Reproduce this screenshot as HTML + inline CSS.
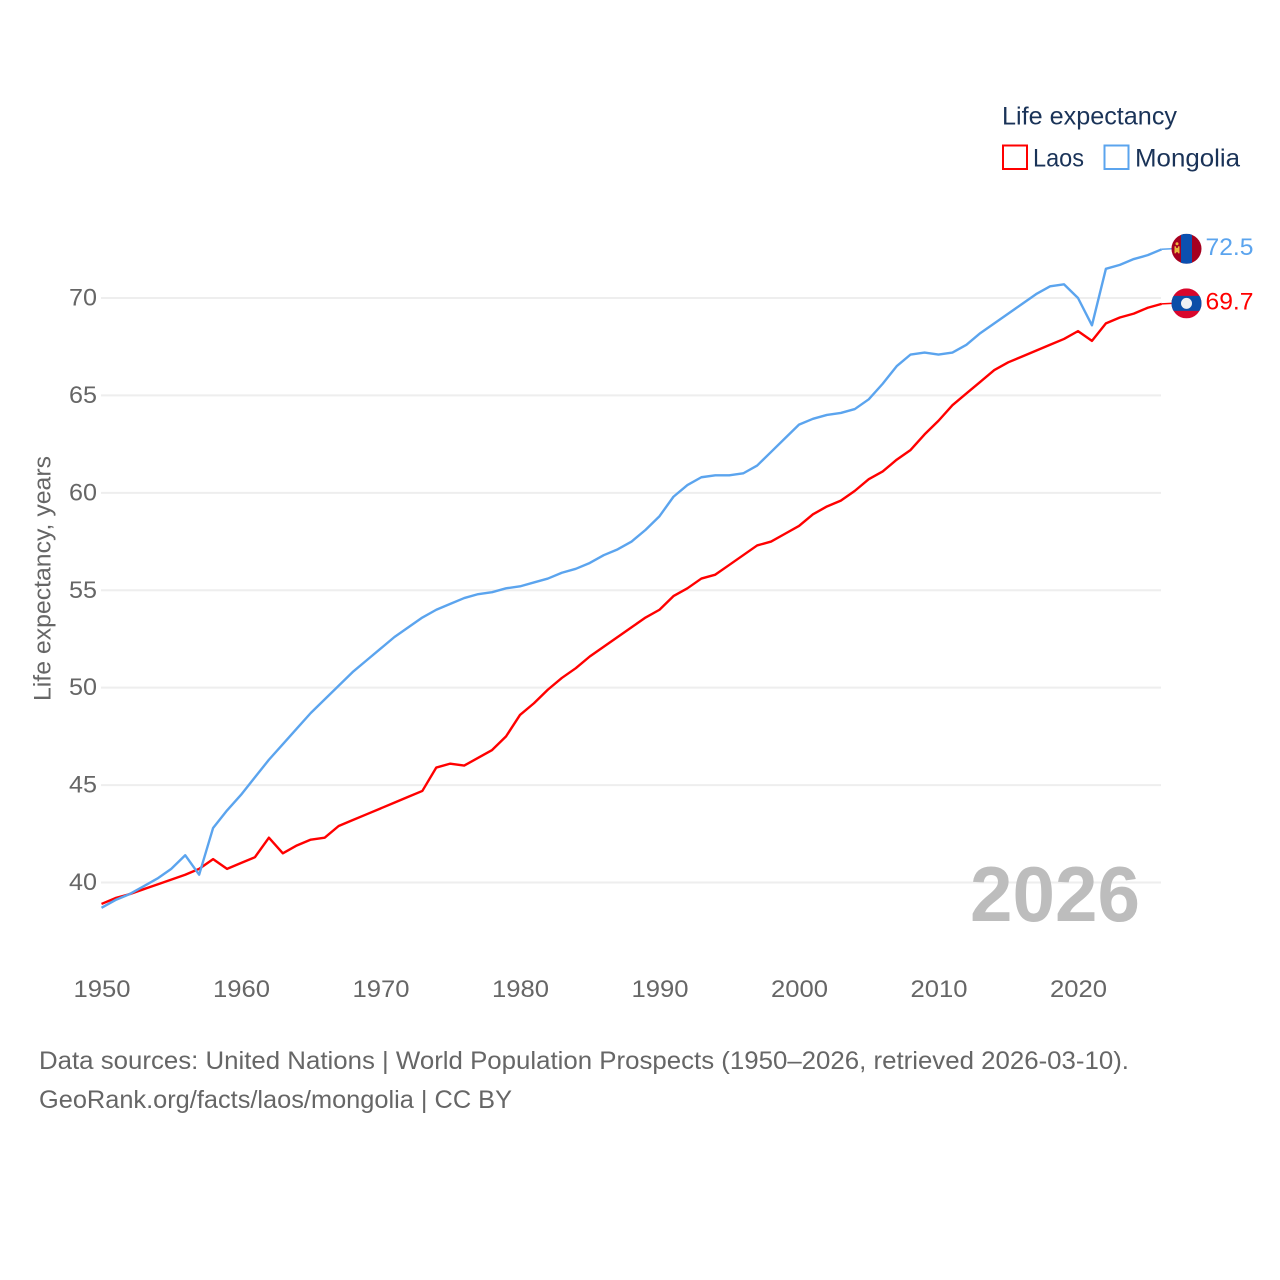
<!DOCTYPE html>
<html lang="en">
<head>
<meta charset="utf-8">
<title>Life expectancy: Laos and Mongolia</title>
<style>
html,body{margin:0;padding:0;background:#fff}
svg{display:block}
text{font-family:"Liberation Sans",sans-serif}
</style>
</head>
<body>
<svg id="chart" xmlns="http://www.w3.org/2000/svg" width="1280" height="1280" viewBox="0 0 1280 1280">
  <rect width="1280" height="1280" fill="#fff"/>
  <defs>
    <clipPath id="flag-clip-laos"><circle id="clip-laos" r="15"/></clipPath>
    <clipPath id="flag-clip-mongolia"><circle id="clip-mongolia" r="15"/></clipPath>
  </defs>
  <g id="grid"></g>
  <text id="watermark" x="970" y="921" font-size="78" font-weight="700" fill="#bdbdbd" textLength="170" lengthAdjust="spacingAndGlyphs">2026</text>
  <g id="y-ticks"></g>
  <g id="x-ticks"></g>
  <text transform="translate(50.500,701) rotate(-90)" font-size="24.5" fill="#666" textLength="245" lengthAdjust="spacingAndGlyphs">Life expectancy, years</text>
  <g id="series"></g>
  <g id="end-labels"></g>

  <g>
    <text x="1002" y="124.500" font-size="25" fill="#1a3358" textLength="175" lengthAdjust="spacingAndGlyphs">Life expectancy</text>
    <rect x="1003" y="145.500" width="24" height="23.500" fill="#fff" stroke="#ff0000" stroke-width="2"/>
    <text x="1033" y="166.500" font-size="25" fill="#1a3358" textLength="51" lengthAdjust="spacingAndGlyphs">Laos</text>
    <rect x="1104.500" y="145.500" width="24" height="23.500" fill="#fff" stroke="#5ba4ee" stroke-width="2"/>
    <text x="1135" y="166.500" font-size="25" fill="#1a3358" textLength="105" lengthAdjust="spacingAndGlyphs">Mongolia</text>
  </g>

  <g>
    <text x="39" y="1069" font-size="25" fill="#666" textLength="1090" lengthAdjust="spacingAndGlyphs">Data sources: United Nations | World Population Prospects (1950–2026, retrieved 2026-03-10).</text>
    <text x="39" y="1108" font-size="25" fill="#666" textLength="473" lengthAdjust="spacingAndGlyphs">GeoRank.org/facts/laos/mongolia | CC BY</text>
  </g>
</svg>
<script>
const startYear = 1950;
const xTickYears = [1950, 1960, 1970, 1980, 1990, 2000, 2010, 2020];
const yTickValues = [40, 45, 50, 55, 60, 65, 70];
const laosValues = [
  38.9, 39.2, 39.4, 39.65, 39.9, 40.15, 40.4, 40.7, 41.2, 40.7,
  41.0, 41.3, 42.3, 41.5, 41.9, 42.2, 42.3, 42.9, 43.2, 43.5,
  43.8, 44.1, 44.4, 44.7, 45.9, 46.1, 46.0, 46.4, 46.8, 47.5,
  48.6, 49.2, 49.9, 50.5, 51.0, 51.6, 52.1, 52.6, 53.1, 53.6,
  54.0, 54.7, 55.1, 55.6, 55.8, 56.3, 56.8, 57.3, 57.5, 57.9,
  58.3, 58.9, 59.3, 59.6, 60.1, 60.7, 61.1, 61.7, 62.2, 63.0,
  63.7, 64.5, 65.1, 65.7, 66.3, 66.7, 67.0, 67.3, 67.6, 67.9,
  68.3, 67.8, 68.7, 69.0, 69.2, 69.5, 69.7
];
const mongoliaValues = [
  38.7, 39.1, 39.4, 39.8, 40.2, 40.7, 41.4, 40.4, 42.8, 43.7,
  44.5, 45.4, 46.3, 47.1, 47.9, 48.7, 49.4, 50.1, 50.8, 51.4,
  52.0, 52.6, 53.1, 53.6, 54.0, 54.3, 54.6, 54.8, 54.9, 55.1,
  55.2, 55.4, 55.6, 55.9, 56.1, 56.4, 56.8, 57.1, 57.5, 58.1,
  58.8, 59.8, 60.4, 60.8, 60.9, 60.9, 61.0, 61.4, 62.1, 62.8,
  63.5, 63.8, 64.0, 64.1, 64.3, 64.8, 65.6, 66.5, 67.1, 67.2,
  67.1, 67.2, 67.6, 68.2, 68.7, 69.2, 69.7, 70.2, 70.6, 70.7,
  70.0, 68.6, 71.5, 71.7, 72.0, 72.2, 72.5
];

const SVG_NS = 'http://www.w3.org/2000/svg';
function xScale(year) { return 101.5 + (year - 1950) * 13.95; }
function yScale(value) { return 882.5 - (value - 40) * 19.483; }
function make(tag, parent, attrs, text) {
  const el = document.createElementNS(SVG_NS, tag);
  for (const k in attrs) el.setAttribute(k, attrs[k]);
  if (text !== undefined) el.textContent = text;
  parent.appendChild(el);
  return el;
}

const gridG = document.getElementById('grid');
const yG = document.getElementById('y-ticks');
yTickValues.forEach(function (v) {
  const line = make('line', gridG, {x1: 101, x2: 1161, y1: yScale(v), y2: yScale(v), stroke: '#eeeeee', 'stroke-width': 2});
  
  
  const label = make('text', yG, {x: 97, y: yScale(v) + 7.5, 'font-size': 24.5, fill: '#666', 'text-anchor': 'end', textLength: 28, lengthAdjust: 'spacingAndGlyphs'}, String(v));
  
  
});

const xG = document.getElementById('x-ticks');
xTickYears.forEach(function (yr) {
  const label = make('text', xG, {x: xScale(yr) - 28, y: 997, 'font-size': 24.5, fill: '#666', textLength: 57, lengthAdjust: 'spacingAndGlyphs'}, String(yr));
  
  
});

function pointsOf(values) {
  return values.map(function (v, i) { return xScale(startYear + i).toFixed(2) + ',' + yScale(v).toFixed(2); }).join(' ');
}
const seriesG = document.getElementById('series');
const laosLine = make('polyline', seriesG, {points: pointsOf(laosValues), fill: 'none', stroke: '#ff0000', 'stroke-width': 2.4, 'stroke-linejoin': 'round'});


const mongoliaLine = make('polyline', seriesG, {points: pointsOf(mongoliaValues), fill: 'none', stroke: '#5ba4ee', 'stroke-width': 2.4, 'stroke-linejoin': 'round'});



const endG = document.getElementById('end-labels');
const lastYear = startYear + laosValues.length - 1;
const endX = xScale(lastYear);
const flagX = 1186.5;

// Mongolia end marker
const mv = mongoliaValues[mongoliaValues.length - 1];
const my = yScale(mv) - 0.5;
const mConn = make('line', endG, {x1: endX, y1: yScale(mv), x2: flagX - 15, y2: my, stroke: '#5ba4ee', 'stroke-width': 1.5});


document.getElementById('clip-mongolia').setAttribute('cx', flagX);
document.getElementById('clip-mongolia').setAttribute('cy', my);
const mFlag = make('g', endG, {'clip-path': 'url(#flag-clip-mongolia)'});


make('rect', mFlag, {x: flagX - 15, y: my - 15, width: 30, height: 30, fill: '#a6001f'});
make('rect', mFlag, {x: flagX - 5.5, y: my - 15, width: 11, height: 30, fill: '#0b50b0'});
make('rect', mFlag, {x: flagX - 12, y: my - 2.5, width: 1.5, height: 7, fill: '#e9b83f'});
make('rect', mFlag, {x: flagX - 8.5, y: my - 2.5, width: 1.5, height: 7, fill: '#e9b83f'});
make('rect', mFlag, {x: flagX - 10.5, y: my - 1, width: 2, height: 4.5, fill: '#e9b83f'});
make('circle', mFlag, {cx: flagX - 9.5, cy: my - 5, r: 1.5, fill: '#e9b83f'});

const mLabel = make('text', endG, {x: 1205.5, y: my + 6, 'font-size': 24.5, fill: '#5ba4ee', textLength: 48, lengthAdjust: 'spacingAndGlyphs'}, mv.toFixed(1));



// Laos end marker
const lv = laosValues[laosValues.length - 1];
const ly = yScale(lv) - 0.5;
const lConn = make('line', endG, {x1: endX, y1: yScale(lv), x2: flagX - 15, y2: ly, stroke: '#ff0000', 'stroke-width': 1.5});


document.getElementById('clip-laos').setAttribute('cx', flagX);
document.getElementById('clip-laos').setAttribute('cy', ly);
const lFlag = make('g', endG, {'clip-path': 'url(#flag-clip-laos)'});


make('rect', lFlag, {x: flagX - 15, y: ly - 15, width: 30, height: 30, fill: '#d9062c'});
make('rect', lFlag, {x: flagX - 15, y: ly - 7.500, width: 30, height: 15, fill: '#0b4ea8'});
make('circle', lFlag, {cx: flagX, cy: ly, r: 5.5, fill: '#eef0f4'});

const lLabel = make('text', endG, {x: 1205.5, y: ly + 6, 'font-size': 24.5, fill: '#ff0000', textLength: 48, lengthAdjust: 'spacingAndGlyphs'}, lv.toFixed(1));


</script>
</body>
</html>
